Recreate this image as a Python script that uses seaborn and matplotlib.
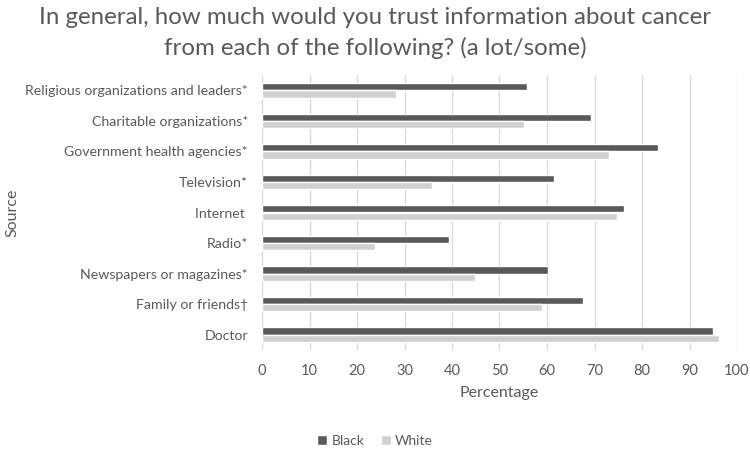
import matplotlib
matplotlib.use("Agg")
import matplotlib.pyplot as plt
import seaborn as sns
import pandas as pd

sources = ["Religious organizations and leaders*", "Charitable organizations*",
           "Government health agencies*", "Television*", "Internet ", "Radio*",
           "Newspapers or magazines*", "Family or friends\u2020", "Doctor"]
black = [55.8, 69.3, 83.4, 61.5, 76.2, 39.4, 60.2, 67.6, 95.0]
white = [28.2, 55.2, 73.0, 35.8, 74.8, 23.8, 44.9, 58.9, 96.2]
groups = ["Black", "White"]
xticks = list(range(0, 101, 10))

df = pd.DataFrame({
    "Source": sources * 2,
    "Percentage": black + white,
    "Group": ["Black"] * len(sources) + ["White"] * len(sources),
})

sns.set_theme(style="white")
plt.rcParams["font.family"] = ["Lato", "DejaVu Sans"]
txt = "#595959"

fig = plt.figure(figsize=(7.5, 4.49), dpi=100)
ax = fig.add_axes([262/750, 1-350/449, (737-262)/750, (350-75)/449])
sns.barplot(data=df, y="Source", x="Percentage", hue="Group", hue_order=groups,
            palette={"Black": "#595959", "White": "#d0d0d0"}, orient="h",
            width=0.48, ax=ax, legend=True, saturation=1)

ax.set_xlim(0, 100)
ax.set_xticks(xticks)
ax.set_xticklabels([str(t) for t in xticks], color=txt, fontsize=10.5)
ax.tick_params(axis="y", labelsize=10.2, labelcolor=txt, length=0, pad=10)
ax.tick_params(axis="x", length=0, pad=10)
ax.xaxis.grid(True, color="#d9d9d9", linewidth=1)
ax.set_axisbelow(True)
for s in ax.spines.values():
    s.set_visible(False)
ax.set_xlabel("Percentage", color=txt, fontsize=11.5, labelpad=6)
ax.set_ylabel("Source", color=txt, fontsize=11.5)
ax.yaxis.set_label_coords((19 - 262) / 475, 0.5)

leg = ax.legend(loc="center", bbox_to_anchor=(375/750, 1-441/449), bbox_transform=fig.transFigure,
                ncol=2, frameon=False, fontsize=10, handlelength=0.7, handleheight=0.7,
                handletextpad=0.3, columnspacing=1.2)
for t in leg.get_texts():
    t.set_color(txt)

fig.text(0.5, 1-33/449, "In general, how much would you trust information about cancer\nfrom each of the following? (a lot/some)",
         ha="center", va="center", fontsize=17.3, color=txt, linespacing=1.45)

fig.savefig("out.png", dpi=100)
